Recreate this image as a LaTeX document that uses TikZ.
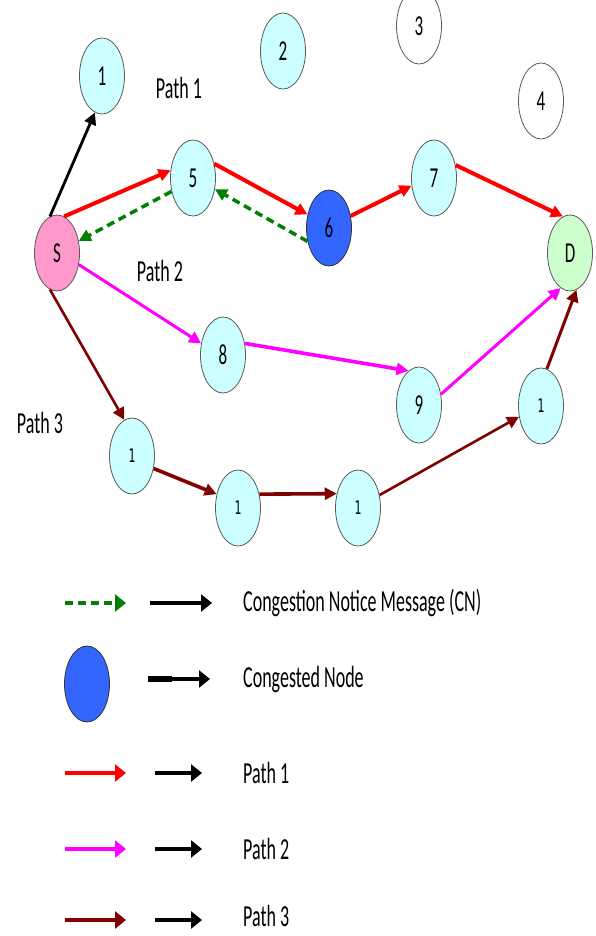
\documentclass[tikz,border=0pt]{standalone}
\usepackage{fontspec}
\usepackage{graphicx}
\setmainfont{Carlito}
\newfontfamily\smallnumfont{DejaVu Sans}
\usetikzlibrary{arrows.meta,shapes.geometric}
\newcommand{\vst}[1]{\scalebox{1}[1.7]{#1}}
\definecolor{cyanl}{HTML}{CCFFFF}
\definecolor{pinkS}{HTML}{FF99CC}
\definecolor{greenD}{HTML}{CCFFCC}
\definecolor{blueC}{HTML}{3366FF}
\definecolor{redP}{HTML}{FF0000}
\definecolor{magP}{HTML}{FF00FF}
\definecolor{darkP}{HTML}{800000}
\definecolor{greenN}{HTML}{008000}
\begin{document}
\begin{tikzpicture}[x=1pt,y=-1pt,
  nd/.style={ellipse, draw=black!65, line width=0.8pt, minimum width=45pt,
    minimum height=76pt, inner sep=0pt, fill=cyanl,
    font=\fontsize{17}{17}\selectfont},
  smallnd/.style={nd, font=\smallnumfont\fontsize{11}{11}\selectfont},
  lbl/.style={font=\fontsize{18}{18}\selectfont, inner sep=0pt},
  tip/.style={-{Triangle[length=12pt,width=12pt]}},
  legtip/.style={-{Triangle[length=11pt,width=17pt]}},
  redarr/.style={tip, draw=redP, line width=4pt},
  magarr/.style={tip, draw=magP, line width=3pt},
  darkarr/.style={tip, draw=darkP, line width=2.6pt},
  blkarr/.style={tip, draw=black, line width=2.8pt},
  cnarr/.style={tip, draw=greenN, line width=3.5pt, dash pattern=on 8pt off 5pt},
]
\useasboundingbox (0,0) rectangle (595,936);
\fill[white] (0,0) rectangle (595,936);

% nodes
\node[nd] (n1) at (102,76) {\vst{1}};
\node[nd] (n2) at (283,51) {\vst{2}};
\node[nd, fill=white] (n3) at (419,26) {\vst{3}};
\node[nd, fill=white] (n4) at (541,101) {\vst{4}};
\node[nd] (n5) at (193,178) {\vst{5}};
\node[nd, fill=blueC, draw=black!80] (n6) at (329,228) {\vst{6}};
\node[nd] (n7) at (434,178) {\vst{7}};
\node[nd, fill=pinkS] (S) at (57,253) {\vst{S}};
\node[nd, fill=greenD] (D) at (570,253) {\vst{D}};
\node[nd] (n8) at (223,355) {\vst{8}};
\node[nd] (n9) at (419,405) {\vst{9}};
\node[smallnd] (p1) at (132,456) {\vst{1}};
\node[smallnd] (p2) at (238,508) {\vst{1}};
\node[smallnd] (p3) at (358,508) {\vst{1}};
\node[smallnd] (p4) at (541,406) {\vst{1}};

% labels
\node[lbl] (lp1) at (179,88) {\vst{Path 1}};
\node[lbl] (lp2) at (160,271) {\vst{Path 2}};
\node[lbl] (lp3) at (40,423) {\vst{Path 3}};

% edges
\draw[blkarr] (S.101) -- (n1.259);
\draw[redarr] (S.79) -- (n5.161);
\draw[cnarr] (n5.212) -- (S.29);
\draw[redarr] (n5.34) -- (n6.148);
\draw[cnarr] (n6.212) -- (n5.333);
\draw[redarr] (n6.29) -- (n7.199);
\draw[redarr] (n7.31) -- (D.101);
\draw[magarr] (S.332) -- (n8.152);
\draw[magarr, line width=3.6pt] (n8.28) -- (n9.107);
\draw[magarr] (n9.26) -- (D.255);
\draw[darkarr] (S.259) -- (p1.102);
\draw[darkarr, line width=3.6pt] (p1.330) -- (p2.147);
\draw[darkarr, line width=3.6pt] (p2.33) -- (p3.146);
\draw[darkarr] (p3.31) -- (p4.206);
\draw[darkarr, line width=3pt] (p4.81) -- (D.280);

% legend
\coordinate (g1) at (65,603);  \coordinate (g2) at (126,603);
\coordinate (b1) at (150,603); \coordinate (b2) at (212,603);
\draw[cnarr, legtip] (g1) -- (g2);
\draw[blkarr, legtip, line width=4pt] (b1) -- (b2);
\node[lbl, anchor=west] (t1) at (243,603) {\vst{Congestion Notice Message (CN)}};

\node[nd, fill=blueC, draw=black!80] (cn) at (87,684) {};
\coordinate (c1) at (148,679); \coordinate (c2) at (210,679);
\coordinate (c3) at (172,679);
\draw[line width=5.5pt] (c1) -- (c3);
\draw[blkarr, legtip, line width=4pt] (c1) -- (c2);
\node[lbl, anchor=west] (t2) at (243,679) {\vst{Congested Node}};

\coordinate (r1) at (65,773);  \coordinate (r2) at (126,773);
\coordinate (k1) at (155,773); \coordinate (k2) at (202,773);
\draw[redarr, legtip] (r1) -- (r2);
\draw[blkarr, legtip, line width=4pt] (k1) -- (k2);
\node[lbl, anchor=west] (t3) at (243,773) {\vst{Path 1}};

\coordinate (m1) at (65,849);  \coordinate (m2) at (126,849);
\coordinate (k3) at (155,849); \coordinate (k4) at (202,849);
\draw[magarr, legtip, line width=4pt] (m1) -- (m2);
\draw[blkarr, legtip, line width=4pt] (k3) -- (k4);
\node[lbl, anchor=west] (t4) at (243,849) {\vst{Path 2}};

\coordinate (d1) at (65,920);  \coordinate (d2) at (126,920);
\coordinate (k5) at (155,920); \coordinate (k6) at (202,920);
\draw[darkarr, legtip, line width=4pt] (d1) -- (d2);
\draw[blkarr, legtip, line width=4pt] (k5) -- (k6);
\node[lbl, anchor=west] (t5) at (243,916) {\vst{Path 3}};
\end{tikzpicture}
\end{document}
